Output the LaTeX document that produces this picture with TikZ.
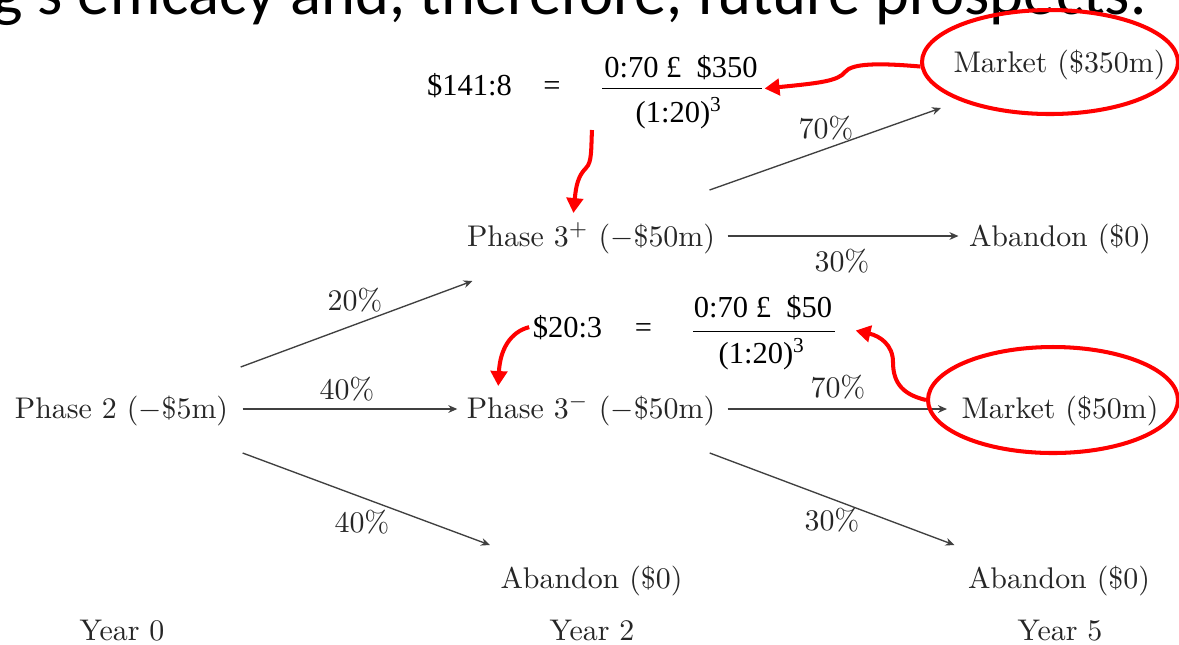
\documentclass[tikz,border=0pt]{standalone}
\usepackage{fontspec}
\newfontfamily\timesrmfam{Liberation Serif}
\newfontfamily\calibfam{Carlito}
\usetikzlibrary{arrows.meta,shapes.geometric,calc}
\begin{document}
\begin{tikzpicture}[x=0.3345pt,y=-0.3345pt,
  lbl/.style={inner sep=0, text=black!85, font=\fontsize{10}{12}\selectfont},
  tms/.style={inner sep=0, text=black, font=\fontsize{10.2}{12}\timesrmfam},
  arr/.style={draw=black!75, line width=0.45pt, -{Stealth[length=3pt,width=2.6pt]}},
  redell/.style={ellipse, draw=red, line width=1.35pt, inner sep=0},
  redarr/.style={draw=red, line width=1.35pt, -{Triangle[length=5pt,width=5.5pt]}},
  fbar/.style={fill=black, inner sep=0, minimum height=0.6pt}
]
\useasboundingbox (0,0) rectangle (1179,644);
\clip (0,0) rectangle (1179,644);
\fill[white] (0,0) rectangle (1179,644);

% cut-off heading
\node[anchor=base west, inner sep=0, font=\fontsize{21.6}{25}\calibfam] (ttl) at (-8,14) {g’s efficacy and, therefore, future prospects.};

% tree nodes
\node[lbl,anchor=base] (p2)  at (121.5,418) {Phase 2 ($-$\$5m)};
\node[lbl,anchor=base] (p3p) at (591,246) {Phase 3$^+$ ($-$\$50m)};
\node[lbl,anchor=base] (p3m) at (591,418) {Phase 3$^-$ ($-$\$50m)};
\node[lbl,anchor=base] (ab2) at (591.5,588) {Abandon (\$0)};
\node[lbl,anchor=base] (m350) at (1059.5,72) {Market (\$350m)};
\node[lbl,anchor=base] (ab5a) at (1060,246) {Abandon (\$0)};
\node[lbl,anchor=base] (m50) at (1060,418) {Market (\$50m)};
\node[lbl,anchor=base] (ab5b) at (1059,588) {Abandon (\$0)};
\node[lbl,anchor=base] (y0) at (122,640) {Year 0};
\node[lbl,anchor=base] (y2) at (592,640) {Year 2};
\node[lbl,anchor=base] (y5) at (1060,640) {Year 5};

% connectors
\draw[arr] ([shift={(12,-51)}]p2.base east) -- ([shift={(6,35)}]p3p.base west);
\draw[arr] ([shift={(14,-9)}]p2.base east) -- ([shift={(-9,-9)}]p3m.base west);
\draw[arr] ([shift={(14,35)}]p2.base east) -- ([shift={(-10,-43)}]ab2.base west);
\draw[arr] ([shift={(-6,-56)}]p3p.base east) -- ([shift={(-12,36)}]m350.base west);
\draw[arr] ([shift={(12,-10)}]p3p.base east) -- ([shift={(-10,-10)}]ab5a.base west);
\draw[arr] ([shift={(12,-9)}]p3m.base east) -- ([shift={(-14,-9)}]m50.base west);
\draw[arr] ([shift={(-6,35)}]p3m.base east) -- ([shift={(-13,-43)}]ab5b.base west);

% probabilities
\node[lbl] (l1) at (355,300) {20\%};
\node[lbl] (l2) at (347,389) {40\%};
\node[lbl] (l3) at (362,522) {40\%};
\node[lbl] (l4) at (826,128) {70\%};
\node[lbl] (l5) at (842,261) {30\%};
\node[lbl] (l6) at (838,387) {70\%};
\node[lbl] (l7) at (832,520) {30\%};

% upper equation
\node[tms,anchor=base] (s1) at (469.5,95) {\$141:8};
\node[tms,anchor=base] (eq1) at (552,95) {=};
\node[tms,anchor=base] (n1) at (681,77) {0:70 £\ \ \$350};
\node[fbar, minimum width={160*0.3345pt}] (bar1) at (682,88.5) {};
\node[tms,anchor=base] (d1) at (679,122) {(1:20)\textsuperscript{3}};

% lower equation
\node[tms,anchor=base] (s2) at (567.5,337) {\$20:3};
\node[tms,anchor=base] (eq2) at (643.5,337) {=};
\node[tms,anchor=base] (n2) at (763,317) {0:70 £\ \ \$50};
\node[fbar, minimum width={142*0.3345pt}] (bar2) at (764,331.5) {};
\node[tms,anchor=base] (d2) at (762,363) {(1:20)\textsuperscript{3}};

% red highlights
\node[redell, minimum width={256*0.3345pt}, minimum height={104*0.3345pt}] (e1) at (1050,62) {};
\node[redell, minimum width={250*0.3345pt}, minimum height={106*0.3345pt}] (e2) at (1053,400) {};

\coordinate (r2s) at (592,130);
\draw[redarr] (e1.182) .. controls (880,63) and (852,63) .. (845,72) .. controls (838,81) and (820,83) .. ([shift={(2,0)}]bar1.east);
\draw[redarr] (r2s) .. controls (591,150) and (592,162) .. (586,168) .. controls (578,176) and (576,186) .. ([shift={(107,-33)}]p3p.base west);
\draw[redarr] ([shift={(-3,0)}]s2.west) .. controls (510,332) and (500,350) .. ([shift={(32,-32)}]p3m.base west);
\draw[redarr] (e2.west) .. controls (905,395) and (893,385) .. (893,362) .. controls (893,345) and (880,336) .. ([shift={(20,-1)}]bar2.east);
\end{tikzpicture}
\end{document}
